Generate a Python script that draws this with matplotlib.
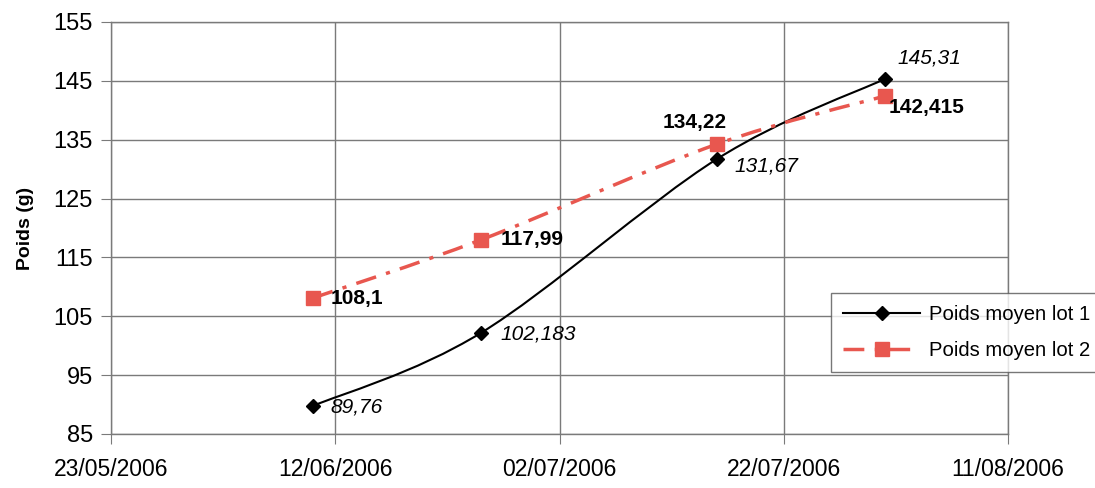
import numpy as np
import matplotlib
matplotlib.use("Agg")
import matplotlib.pyplot as plt
import matplotlib.dates as mdates
from matplotlib.path import Path
from matplotlib.patches import PathPatch
from matplotlib.lines import Line2D
from datetime import datetime

plt.rcParams['font.family'] = ['Liberation Sans', 'DejaVu Sans']

# Weighing dates and mean weights (g) of the two batches
dates = ["10/06/2006", "25/06/2006", "16/07/2006", "31/07/2006"]
lot1 = [89.76, 102.183, 131.67, 145.31]
lot2 = [108.1, 117.99, 134.22, 142.415]
lot1_labels = ["89,76", "102,183", "131,67", "145,31"]
lot2_labels = ["108,1", "117,99", "134,22", "142,415"]
series_names = ["Poids moyen lot 1", "Poids moyen lot 2"]
tick_dates = ["23/05/2006", "12/06/2006", "02/07/2006", "22/07/2006", "11/08/2006"]

RED = "#e8574f"
DASHDOT = (0, (6, 3, 1.2, 3))

def to_num(s):
    return mdates.date2num(datetime.strptime(s, "%d/%m/%Y"))

x = np.array([to_num(d) for d in dates])
ticks = [to_num(d) for d in tick_dates]


def smooth_path(xs, ys):
    """Catmull-Rom style cubic Bezier path through the points."""
    pts = np.column_stack([xs, ys])
    n = len(pts)
    verts = [pts[0]]
    codes = [Path.MOVETO]
    for i in range(n - 1):
        p0 = pts[i - 1] if i > 0 else pts[i]
        p1 = pts[i]
        p2 = pts[i + 1]
        p3 = pts[i + 2] if i + 2 < n else pts[i + 1]
        c1 = p1 + (p2 - p0) / 6.0
        c2 = p2 - (p3 - p1) / 6.0
        verts += [c1, c2, p2]
        codes += [Path.CURVE4] * 3
    return Path(verts, codes)


fig = plt.figure(figsize=(10.95, 4.88), dpi=100)
ax = fig.add_axes([0.1014, 0.1107, 0.8192, 0.8443])

ax.set_xlim(ticks[0], ticks[-1])
ax.set_ylim(85, 155)
ax.set_xticks(ticks)
ax.set_xticklabels(tick_dates)
ax.set_yticks(np.arange(85, 156, 10))

ax.grid(True, color="#7a7a7a", linewidth=1.0)
ax.set_axisbelow(True)
for sp in ax.spines.values():
    sp.set_color("#7a7a7a")
    sp.set_linewidth(1.0)
ax.tick_params(axis="both", direction="out", length=7, color="#7a7a7a",
               labelsize=17, pad=6)
ax.tick_params(axis="x", labelsize=16.5, pad=10)

# Smoothed series lines
ax.add_patch(PathPatch(smooth_path(x, lot1), facecolor="none",
                       edgecolor="black", linewidth=1.5, zorder=3))
ax.add_patch(PathPatch(smooth_path(x, lot2), facecolor="none",
                       edgecolor=RED, linewidth=2.5, zorder=3,
                       linestyle=DASHDOT))

ax.plot(x, lot1, linestyle="none", marker="D", markersize=7,
        color="black", zorder=4)
ax.plot(x, lot2, linestyle="none", marker="s", markersize=9.5,
        color=RED, zorder=4)

# Value labels
offs1 = [(13, -1, "left", "center"), (14, -1, "left", "center"),
         (13, -5, "left", "center"), (9, 8, "left", "bottom")]
for xi, yi, lab, (dx, dy, ha, va) in zip(x, lot1, lot1_labels, offs1):
    ax.annotate(lab, (xi, yi), xytext=(dx, dy), textcoords="offset points",
                ha=ha, va=va, fontsize=15, style="italic", zorder=5)

offs2 = [(13, 0, "left", "center"), (14, 0, "left", "center"),
         (-16, 9, "center", "bottom"), (3, -8, "left", "center")]
for xi, yi, lab, (dx, dy, ha, va) in zip(x, lot2, lot2_labels, offs2):
    ax.annotate(lab, (xi, yi), xytext=(dx, dy), textcoords="offset points",
                ha=ha, va=va, fontsize=15, fontweight="bold", zorder=5)

ax.set_ylabel("Poids (g)", fontsize=14, fontweight="bold", labelpad=14)

handles = [
    Line2D([], [], color="black", linewidth=1.5, marker="D", markersize=7),
    Line2D([], [], color=RED, linewidth=2.5, linestyle=DASHDOT,
           marker="s", markersize=9.5),
]
leg = fig.legend(handles, series_names, loc="lower left",
                 bbox_to_anchor=(0.759, 0.238), fontsize=14.6,
                 frameon=True, fancybox=False, edgecolor="#555555",
                 handlelength=3.8, handletextpad=0.45, borderpad=0.6,
                 labelspacing=0.8, borderaxespad=0)
leg.get_frame().set_linewidth(1.0)

fig.savefig("out.png", dpi=100)
